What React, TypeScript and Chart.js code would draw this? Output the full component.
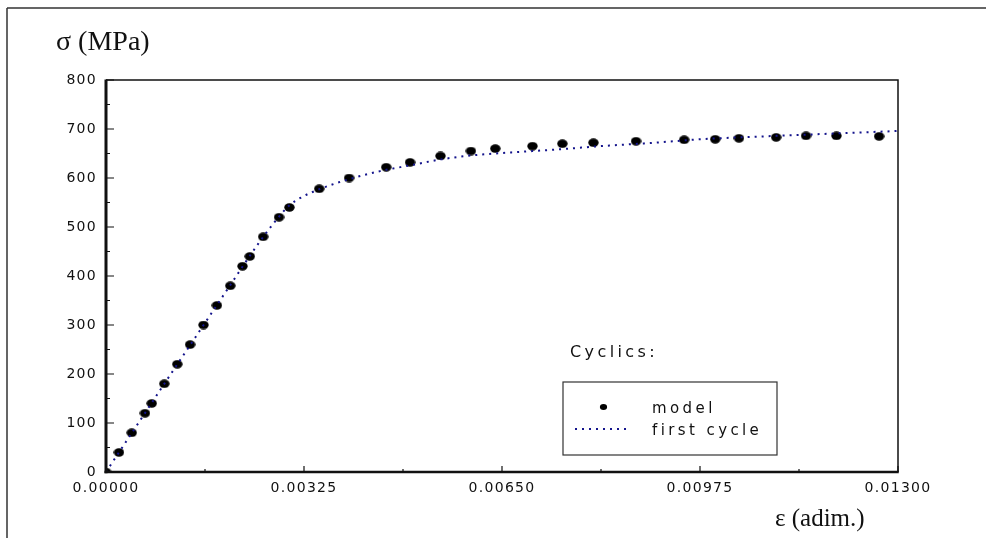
import React, { useEffect, useRef } from 'react';
import { Chart, registerables } from 'chart.js';

Chart.register(...registerables);

// ---- data ----
const modelStrain = [
  0, 0.000213, 0.000422, 0.00064, 0.00075, 0.000957, 0.00117, 0.00138, 0.0016,
  0.00182, 0.00204, 0.00224, 0.00236, 0.00258, 0.00284, 0.00301,
  0.0035, 0.00399, 0.0046, 0.00499, 0.00549, 0.00599, 0.00639, 0.007, 0.00749,
  0.008, 0.0087, 0.00949, 0.01, 0.01039, 0.011, 0.01149, 0.01199, 0.01269,
];
const modelStress = [
  0, 40, 80, 120, 140, 180, 220, 260, 300,
  340, 380, 420, 440, 480, 520, 540,
  578, 600, 622, 632, 645, 655, 660, 665, 670,
  672, 675, 678, 679, 681, 683, 686, 686, 685,
];
const cycleStrain = [
  0, 0.0005, 0.001, 0.0015, 0.002, 0.0025, 0.0028, 0.003, 0.0032, 0.0035, 0.004,
  0.0045, 0.005, 0.0055, 0.006, 0.007, 0.0075, 0.008, 0.009, 0.00975, 0.011, 0.012, 0.013,
];
const cycleStress = [
  0, 94, 188, 281, 374, 466, 515, 543, 560, 577, 598,
  614, 626, 638, 646, 655, 659, 664, 672, 679, 686, 691, 696,
];
const xTickValues = [0, 0.00325, 0.0065, 0.00975, 0.013];
const xTickLabels = ['0.00000', '0.00325', '0.00650', '0.00975', '0.01300'];
const yTickValues = [0, 100, 200, 300, 400, 500, 600, 700, 800];
const yTickLabels = ['0', '100', '200', '300', '400', '500', '600', '700', '800'];
const yTitle = 'σ (MPa)';
const xTitle = 'ε (adim.)';
const legendTitle = 'Cyclics:';
const seriesNames = ['model', 'first cycle'];

const W = 986;
const H = 538;
const INK = '#111111';
const LINE_COLOR = '#14148c';
const SANS = '"DejaVu Sans"';

function makeEllipse(w: number, h: number): HTMLCanvasElement {
  const c = document.createElement('canvas');
  c.width = w;
  c.height = h;
  const g = c.getContext('2d')!;
  g.fillStyle = '#000000';
  g.beginPath();
  g.ellipse(w / 2, h / 2, w / 2 - 0.3, h / 2 - 0.3, 0, 0, Math.PI * 2);
  g.fill();
  return c;
}

export default function App() {
  const ref = useRef<HTMLCanvasElement | null>(null);

  useEffect(() => {
    const canvas = ref.current;
    if (!canvas) return;
    const dot = makeEllipse(11, 9);

    const decor = {
      id: 'decor',
      beforeDraw(chart: any) {
        chart.ctx.letterSpacing = '1.3px';
      },
      afterDraw(chart: any) {
        const ctx = chart.ctx as CanvasRenderingContext2D;
        const { left, right, top, bottom } = chart.chartArea;
        const xs = chart.scales.x;
        const ys = chart.scales.y;
        ctx.save();
        ctx.letterSpacing = '0px';
        ctx.strokeStyle = '#333';
        ctx.lineCap = 'butt';

        // outer frame (top & left)
        ctx.lineWidth = 1.5;
        ctx.beginPath();
        ctx.moveTo(7, 8);
        ctx.lineTo(W, 8);
        ctx.moveTo(7, 8);
        ctx.lineTo(7, H);
        ctx.stroke();

        // plot box
        ctx.strokeStyle = INK;
        ctx.lineWidth = 1.5;
        ctx.beginPath();
        ctx.moveTo(left, top);
        ctx.lineTo(right, top);
        ctx.lineTo(right, bottom);
        ctx.stroke();
        ctx.lineWidth = 3;
        ctx.beginPath();
        ctx.moveTo(left, top - 0.5);
        ctx.lineTo(left, bottom + 1.2);
        ctx.stroke();
        ctx.lineWidth = 2.5;
        ctx.beginPath();
        ctx.moveTo(left - 1.5, bottom);
        ctx.lineTo(right + 0.75, bottom);
        ctx.stroke();

        // ticks
        ctx.lineWidth = 1.2;
        ctx.beginPath();
        for (let i = 0; i < yTickValues.length; i++) {
          const y = ys.getPixelForValue(yTickValues[i]);
          ctx.moveTo(left, y);
          ctx.lineTo(left + 8, y);
          if (i < yTickValues.length - 1) {
            const ym = ys.getPixelForValue((yTickValues[i] + yTickValues[i + 1]) / 2);
            ctx.moveTo(left, ym);
            ctx.lineTo(left + 4, ym);
          }
        }
        for (let i = 0; i < xTickValues.length; i++) {
          const x = xs.getPixelForValue(xTickValues[i]);
          ctx.moveTo(x, bottom);
          ctx.lineTo(x, bottom - 6);
          if (i < xTickValues.length - 1) {
            const xm = xs.getPixelForValue((xTickValues[i] + xTickValues[i + 1]) / 2);
            ctx.moveTo(xm, bottom);
            ctx.lineTo(xm, bottom - 3);
          }
        }
        ctx.stroke();

        // axis titles
        ctx.fillStyle = INK;
        ctx.textAlign = 'left';
        ctx.textBaseline = 'alphabetic';
        ctx.font = '28px "Liberation Serif"';
        ctx.fillText(yTitle, 56, 50);
        ctx.font = '25px "Liberation Serif"';
        ctx.fillText(xTitle, 775, 526);

        // legend
        ctx.font = `16px ${SANS}`;
        ctx.letterSpacing = '3.4px';
        ctx.fillText(legendTitle, 570, 357);
        ctx.lineWidth = 1.2;
        ctx.strokeStyle = '#333';
        ctx.strokeRect(563, 382, 214, 73);
        ctx.font = `15px ${SANS}`;
        ctx.letterSpacing = '3.4px';
        ctx.fillText(seriesNames[0], 652, 413);
        ctx.fillText(seriesNames[1], 652, 435);
        ctx.fillStyle = '#000';
        ctx.beginPath();
        ctx.ellipse(603.5, 407, 3.6, 3, 0, 0, Math.PI * 2);
        ctx.fill();
        ctx.strokeStyle = LINE_COLOR;
        ctx.lineWidth = 2;
        ctx.setLineDash([2, 5]);
        ctx.beginPath();
        ctx.moveTo(575, 429);
        ctx.lineTo(631, 429);
        ctx.stroke();
        ctx.restore();
      },
    };

    const chart = new Chart(canvas, {
      type: 'scatter',
      data: {
        datasets: [
          {
            label: seriesNames[1],
            data: cycleStrain.map((x, i) => ({ x, y: cycleStress[i] })),
            showLine: true,
            borderColor: LINE_COLOR,
            borderWidth: 2,
            borderDash: [2, 5],
            pointRadius: 0,
            cubicInterpolationMode: 'monotone',
            order: 0,
          },
          {
            label: seriesNames[0],
            data: modelStrain.map((x, i) => ({ x, y: modelStress[i] })),
            showLine: false,
            pointStyle: dot,
            pointRadius: 5,
            backgroundColor: '#000',
            borderColor: '#000',
            order: 1,
          },
        ],
      },
      options: {
        animation: false,
        responsive: false,
        devicePixelRatio: 1,
        layout: { padding: { left: 0, top: 80, right: W - 898, bottom: 0 } },
        plugins: { legend: { display: false }, tooltip: { enabled: false } },
        scales: {
          x: {
            type: 'linear',
            min: 0,
            max: 0.013,
            grid: { display: false, drawTicks: false },
            border: { display: false },
            afterBuildTicks: (s: any) => {
              s.ticks = xTickValues.map((v) => ({ value: v }));
            },
            afterFit: (s: any) => {
              s.height = H - 472;
            },
            ticks: {
              callback: (_v: any, i: number) => xTickLabels[i],
              font: { family: 'DejaVu Sans', size: 14 },
              color: INK,
              padding: 8,
              maxRotation: 0,
              autoSkip: false,
            },
          },
          y: {
            type: 'linear',
            min: 0,
            max: 800,
            grid: { display: false, drawTicks: false },
            border: { display: false },
            afterBuildTicks: (s: any) => {
              s.ticks = yTickValues.map((v) => ({ value: v }));
            },
            afterFit: (s: any) => {
              s.width = 106;
            },
            ticks: {
              callback: (_v: any, i: number) => yTickLabels[i],
              font: { family: 'DejaVu Sans', size: 14 },
              color: INK,
              padding: 9,
              autoSkip: false,
            },
          },
        },
      },
      plugins: [decor],
    } as any);

    return () => chart.destroy();
  }, []);

  return (
    <div style={{ position: 'absolute', left: 0, top: 0, width: W, height: H, background: '#fff' }}>
      <canvas ref={ref} width={W} height={H} style={{ display: 'block', width: W, height: H }} />
    </div>
  );
}
